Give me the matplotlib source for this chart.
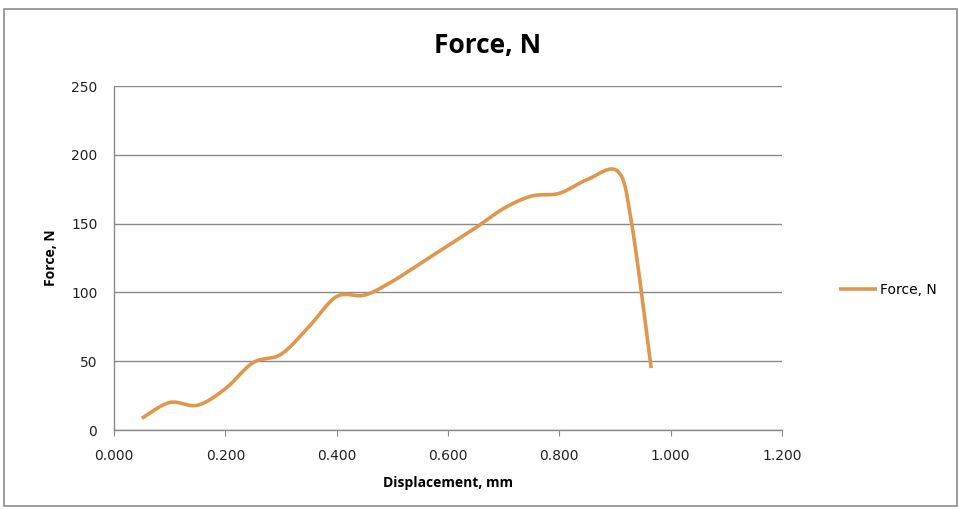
import numpy as np
import matplotlib
matplotlib.use("Agg")
import matplotlib.pyplot as plt
from matplotlib.patches import Rectangle

displacement = [0.05, 0.10, 0.15, 0.20, 0.25, 0.30, 0.35, 0.40, 0.45, 0.50,
                0.55, 0.60, 0.65, 0.70, 0.75, 0.80, 0.85, 0.905, 0.93, 0.965]
force = [8.5, 20, 18, 30, 49, 55, 75, 97, 98, 108,
         121, 134, 147, 161, 170, 172, 182, 188, 150, 45]
x_ticks = [0.0, 0.2, 0.4, 0.6, 0.8, 1.0, 1.2]
y_ticks = [0, 50, 100, 150, 200, 250]


def smooth(xs, ys, n=30, tension=0.5):
    xs = np.asarray(xs, float); ys = np.asarray(ys, float)
    px = np.concatenate([[xs[0]], xs, [xs[-1]]])
    py = np.concatenate([[ys[0]], ys, [ys[-1]]])
    ox, oy = [], []
    for i in range(1, len(px) - 2):
        p0 = np.array([px[i-1], py[i-1]]); p1 = np.array([px[i], py[i]])
        p2 = np.array([px[i+1], py[i+1]]); p3 = np.array([px[i+2], py[i+2]])
        c1 = p1 + (p2 - p0) * tension / 3
        c2 = p2 - (p3 - p1) * tension / 3
        t = np.linspace(0, 1, n)[:, None]
        b = ((1-t)**3)*p1 + 3*((1-t)**2)*t*c1 + 3*(1-t)*t**2*c2 + t**3*p2
        ox.extend(b[:, 0]); oy.extend(b[:, 1])
    return np.array(ox), np.array(oy)


plt.rcParams['font.family'] = ['DejaVu Sans']
fig = plt.figure(figsize=(9.59, 5.09), dpi=100)
fig.patches.append(Rectangle((4/959, 1-506/509), 953/959, 497/509,
                             transform=fig.transFigure, fill=False,
                             edgecolor='#8c8c8c', linewidth=1.2))
ax = fig.add_axes([114/959, 1-430/509, (782-114)/959, (430-86)/509])

sx, sy = smooth(displacement, force)
ax.plot(sx, sy, color='#e0974d', linewidth=2.6, label='Force, N',
        solid_capstyle='butt')

ax.set_xlim(0, 1.2)
ax.set_ylim(0, 250)
ax.set_xticks(x_ticks)
ax.set_xticklabels([f"{v:.3f}" for v in x_ticks])
ax.set_yticks(y_ticks)
ax.grid(axis='y', color='#8a8a8a', linewidth=1)
ax.set_axisbelow(True)
for s in ['top', 'right']:
    ax.spines[s].set_visible(False)
for s in ['left', 'bottom']:
    ax.spines[s].set_color('#8a8a8a')
    ax.spines[s].set_linewidth(1)
ax.tick_params(axis='both', length=0, labelsize=10, colors='#222222', pad=12)
ax.tick_params(axis='x', length=4, color='#8a8a8a', direction='out', pad=10)

bold = dict(family=['Open Sans', 'DejaVu Sans'], fontweight='bold')
ax.set_xlabel('Displacement, mm', fontsize=10, labelpad=9, **bold)
ax.set_ylabel('Force, N', fontsize=10, labelpad=9, **bold)
fig.text(488/959, 1 - 45/509, 'Force, N', ha='center',
         va='center', fontsize=19, **bold)

leg = fig.legend(loc='center left', bbox_to_anchor=(826/959, 1-290/509),
                 frameon=False, fontsize=10, handlelength=2.8,
                 handletextpad=0.2)

fig.savefig('out.png', dpi=100, facecolor='white')
